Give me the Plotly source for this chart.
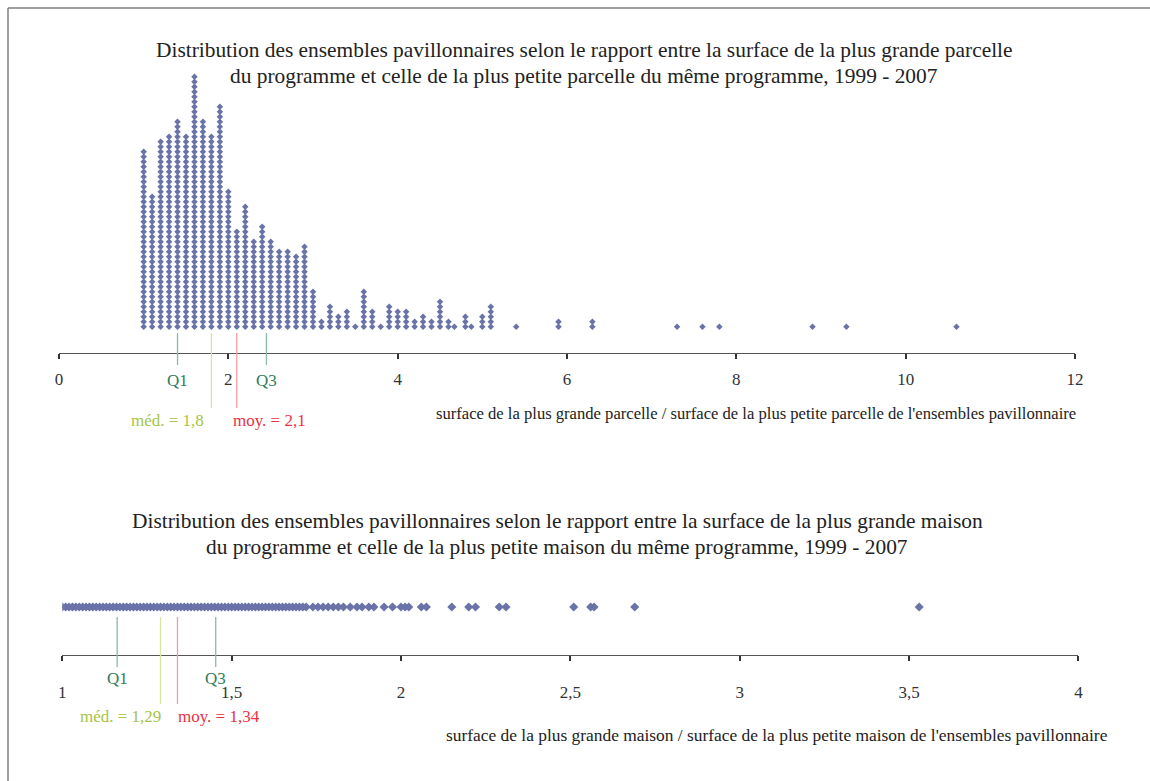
import plotly.graph_objects as go

W, H = 1150, 781

# ---------------- data: top chart (plot size ratio) ----------------
parc_values = [1.0, 1.1, 1.2, 1.3, 1.4, 1.5, 1.6, 1.7, 1.8, 1.9,
               2.0, 2.1, 2.2, 2.3, 2.4, 2.5, 2.6, 2.7, 2.8, 2.9,
               3.0, 3.1, 3.2, 3.3, 3.4, 3.5, 3.6, 3.7, 3.8, 3.9,
               4.0, 4.1, 4.2, 4.3, 4.4, 4.5, 4.6, 4.67, 4.8, 4.87,
               5.0, 5.1, 5.4, 5.9, 6.3, 7.3, 7.6, 7.8, 8.9, 9.3, 10.6]
parc_counts = [36, 27, 38, 39, 42, 39, 51, 42, 39, 45,
               28, 20, 25, 18, 21, 18, 16, 16, 15, 17,
               8, 2, 5, 3, 4, 1, 8, 4, 1, 5,
               4, 4, 2, 3, 2, 6, 2, 1, 3, 1,
               3, 5, 1, 2, 2, 1, 1, 1, 1, 1, 1]
parc_ticks = [0, 2, 4, 6, 8, 10, 12]
parc_stats = {"Q1": 1.40, "med": 1.8, "moy": 2.1, "Q3": 2.45}

# ---------------- data: bottom chart (house size ratio) ----------------
mais_values = [1.00, 1.01, 1.02, 1.03, 1.04, 1.05, 1.06, 1.07, 1.08, 1.09,
               1.10, 1.11, 1.12, 1.13, 1.14, 1.15, 1.16, 1.17, 1.18, 1.19,
               1.20, 1.21, 1.22, 1.23, 1.24, 1.25, 1.26, 1.27, 1.28, 1.29,
               1.30, 1.31, 1.32, 1.33, 1.34, 1.35, 1.36, 1.37, 1.38, 1.39,
               1.40, 1.41, 1.42, 1.43, 1.44, 1.45, 1.46, 1.47, 1.48, 1.49,
               1.50, 1.51, 1.52, 1.53, 1.54, 1.55, 1.56, 1.57, 1.58,
               1.59, 1.60, 1.61, 1.62, 1.63, 1.64,
               1.65, 1.66, 1.67, 1.68, 1.69, 1.70,
               1.71, 1.72, 1.74, 1.755, 1.77, 1.785, 1.80,
               1.815, 1.83, 1.85, 1.87, 1.885, 1.905, 1.92,
               1.95, 1.975, 2.00, 2.012, 2.023, 2.06, 2.075,
               2.15, 2.20, 2.22, 2.29, 2.31, 2.51, 2.56, 2.57, 2.69, 3.53]
mais_tickvals = [1, 1.5, 2, 2.5, 3, 3.5, 4]
mais_ticktext = ["1", "1,5", "2", "2,5", "3", "3,5", "4"]
mais_stats = {"Q1": 1.162, "med": 1.29, "moy": 1.34, "Q3": 1.453}

# ---------------- styling ----------------
FONT = "Liberation Serif"
DOT = "#6a73a8"
Q_LINE = "#8cb9a5"
Q_TXT = "#2f7d5c"
MED_LINE = "#d6e6a8"
MED_TXT = "#a6c447"
MOY_LINE = "#f49aa2"
MOY_TXT = "#e83245"
TXT = "#222222"


def fx(px):
    return px / W


def fy(py):
    return 1 - py / H


# stacked dot coordinates for top chart
top_x, top_y = [], []
for v, c in zip(parc_values, parc_counts):
    for k in range(c):
        top_x.append(v)
        top_y.append(k)

fig = go.Figure()
fig.add_trace(go.Scatter(x=top_x, y=top_y, mode="markers", xaxis="x", yaxis="y",
                         marker=dict(symbol="diamond", size=5, color=DOT, line=dict(width=0)),
                         hoverinfo="x", showlegend=False))
fig.add_trace(go.Scatter(x=mais_values, y=[0] * len(mais_values), mode="markers",
                         xaxis="x2", yaxis="y2",
                         marker=dict(symbol="diamond", size=7, color=DOT, line=dict(width=0)),
                         hoverinfo="x", showlegend=False))

# geometry (pixels)
TOP_AX_Y = 353
TOP_X0, TOP_X1 = 59, 1075
TOP_DOM_TOP = 53
BOT_AX_Y = 655
BOT_X0, BOT_X1 = 62.3, 1078.4
BOT_DOM_TOP = 575

top_h = TOP_AX_Y - TOP_DOM_TOP  # px
step = 5.0
first = (TOP_AX_Y - 326.7) / step
bot_h = BOT_AX_Y - BOT_DOM_TOP
bot_first = BOT_AX_Y - 607

axis_common = dict(showgrid=False, zeroline=False, showline=True, linecolor="#555555",
                   linewidth=1.2, ticks="outside", ticklen=5, tickwidth=1.5, tickcolor="#333333",
                   tickfont=dict(family=FONT, size=17, color="#333333"), fixedrange=True,
                   automargin=False)

fig.update_layout(
    width=W, height=H, autosize=False, margin=dict(l=0, r=0, t=0, b=0, pad=0, autoexpand=False),
    paper_bgcolor="white", plot_bgcolor="white",
    xaxis=dict(domain=[fx(TOP_X0), fx(TOP_X1)], range=[0, 12], anchor="y",
               tickvals=parc_ticks, ticktext=[str(t) for t in parc_ticks],
               ticklabelstandoff=5, **axis_common),
    yaxis=dict(domain=[fy(TOP_AX_Y), fy(TOP_DOM_TOP)],
               range=[-first, -first + top_h / step], visible=False, fixedrange=True,
               automargin=False),
    xaxis2=dict(domain=[fx(BOT_X0), fx(BOT_X1)], range=[1, 4], anchor="y2",
                tickvals=mais_tickvals, ticktext=mais_ticktext,
                ticklabelstandoff=16, **axis_common),
    yaxis2=dict(domain=[fy(BOT_AX_Y), fy(BOT_DOM_TOP)],
                range=[-bot_first, -bot_first + bot_h], visible=False, fixedrange=True,
                automargin=False),
)

shapes = []
annotations = []


def stat_marks(xref, stats, q_top, q_bot, m_top, m_bot, q_lab_y, m_lab_y, med_shift, moy_shift):
    for key, col in (("Q1", Q_LINE), ("Q3", Q_LINE)):
        shapes.append(dict(type="line", xref=xref, yref="paper", x0=stats[key], x1=stats[key],
                           y0=fy(q_top), y1=fy(q_bot), line=dict(color=col, width=1.3)))
        annotations.append(dict(xref=xref, yref="paper", x=stats[key], y=fy(q_lab_y), text=key,
                                showarrow=False, xanchor="center", yanchor="middle",
                                font=dict(family=FONT, size=17, color=Q_TXT)))
    shapes.append(dict(type="line", xref=xref, yref="paper", x0=stats["med"], x1=stats["med"],
                       y0=fy(m_top), y1=fy(m_bot), line=dict(color=MED_LINE, width=1.3)))
    shapes.append(dict(type="line", xref=xref, yref="paper", x0=stats["moy"], x1=stats["moy"],
                       y0=fy(m_top), y1=fy(m_bot), line=dict(color=MOY_LINE, width=1.3)))
    med_txt = "méd. = " + ("%g" % stats["med"]).replace(".", ",")
    moy_txt = "moy. = " + ("%g" % stats["moy"]).replace(".", ",")
    annotations.append(dict(xref=xref, yref="paper", x=stats["med"], y=fy(m_lab_y), text=med_txt,
                            showarrow=False, xanchor="right", yanchor="middle", xshift=med_shift,
                            font=dict(family=FONT, size=17, color=MED_TXT)))
    annotations.append(dict(xref=xref, yref="paper", x=stats["moy"], y=fy(m_lab_y), text=moy_txt,
                            showarrow=False, xanchor="left", yanchor="middle", xshift=moy_shift,
                            font=dict(family=FONT, size=17, color=MOY_TXT)))


stat_marks("x", parc_stats, 333, 365, 333, 408, 380, 420, -5, -6)
stat_marks("x2", mais_stats, 617, 667, 617, 704, 678, 716, 2, -1)


def title(lines, cx, ys):
    for t, y in zip(lines, ys):
        annotations.append(dict(xref="paper", yref="paper", x=fx(cx), y=fy(y), text=t,
                                showarrow=False, xanchor="center", yanchor="middle",
                                font=dict(family=FONT, size=21.4, color=TXT)))


title(["Distribution des ensembles pavillonnaires selon le rapport entre la surface de la plus grande parcelle",
       "du programme et celle de la plus petite parcelle du même programme, 1999 - 2007"], 584, [50, 76])
title(["Distribution des ensembles pavillonnaires selon le rapport entre la surface de la plus grande maison",
       "du programme et celle de la plus petite maison du même programme, 1999 - 2007"], 557, [521, 547])

annotations.append(dict(xref="paper", yref="paper", x=fx(1078), y=fy(413),
                        text="surface de la plus grande parcelle / surface de la plus petite parcelle de l'ensembles pavillonnaire",
                        showarrow=False, xanchor="right", yanchor="middle",
                        font=dict(family=FONT, size=16.6, color=TXT)))
annotations.append(dict(xref="paper", yref="paper", x=fx(1110), y=fy(735),
                        text="surface de la plus grande maison / surface de la plus petite maison de l'ensembles pavillonnaire",
                        showarrow=False, xanchor="right", yanchor="middle",
                        font=dict(family=FONT, size=17.4, color=TXT)))

# outer frame (top and left edges)
shapes.append(dict(type="line", xref="paper", yref="paper", x0=fx(8), x1=1, y0=fy(8), y1=fy(8),
                   line=dict(color="#7f7f7f", width=1.5)))
shapes.append(dict(type="line", xref="paper", yref="paper", x0=fx(8), x1=fx(8), y0=fy(8), y1=0,
                   line=dict(color="#7f7f7f", width=1.5)))

fig.update_layout(shapes=shapes, annotations=annotations)
fig.write_html("out.html", config={"displayModeBar": False},
               post_script="document.body.style.margin='0';document.body.style.overflow='hidden';")
